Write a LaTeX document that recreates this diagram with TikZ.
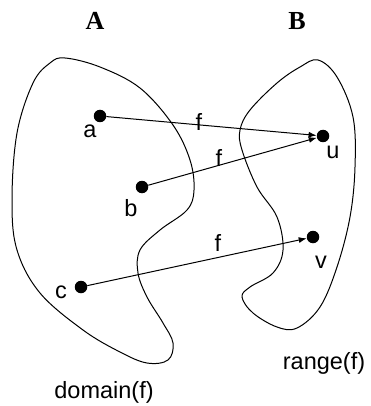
\documentclass[tikz,border=0pt]{standalone}
\usepackage{fontspec}
\setmainfont{Liberation Sans}
\newfontfamily\titlefont{Liberation Serif}
\usetikzlibrary{arrows.meta}
\begin{document}
\begin{tikzpicture}[x=1pt,y=-1pt,
  dot/.style={circle,fill=black,minimum size=12.5pt,inner sep=0pt},
  lbl/.style={inner sep=0pt,font=\fontsize{23.5}{27}\selectfont},
  ttl/.style={inner sep=0pt,font=\titlefont\bfseries\fontsize{26}{30}\selectfont},
  blob/.style={line width=1pt},
  maparrow/.style={line width=1pt,-{Latex[length=8pt,width=6pt]}}]
\useasboundingbox (0,0) rectangle (370,406);
% blobs
\draw[blob] plot[smooth cycle,tension=0.6] coordinates {
 (65,58) (100,67) (140,88) (173,125) (190,160) (194,190) (187,210) (160,230)
 (140,250) (138,273) (147,297) (163,323) (173,343) (168,360) (147,363)
 (120,352) (83,330) (40,293) (17,250) (12,200) (17,133) (33,83) (50,63)};
\draw[blob] plot[smooth cycle,tension=0.6] coordinates {
 (318,60) (337,77) (353,117) (355,167) (350,217) (337,267) (320,307) (297,328)
 (277,327) (253,313) (242,297) (250,287) (273,273) (283,250) (277,217)
 (257,187) (242,150) (240,130) (250,110) (277,83) (300,67)};
% titles
\node[ttl] (tA) at (95,21) {A};
\node[ttl] (tB) at (297,21) {B};
% dots
\node[dot] (a) at (100,116) {};
\node[dot] (b) at (142,187) {};
\node[dot] (c) at (81,287) {};
\node[dot] (u) at (323,136) {};
\node[dot] (v) at (313,237) {};
% point labels
\node[lbl] (la) at (90,131) {a};
\node[lbl] (lb) at (131,208) {b};
\node[lbl] (lc) at (61,292) {c};
\node[lbl] (lu) at (333,152) {u};
\node[lbl] (lv) at (321,262) {v};
% arrows
\draw[maparrow] (a) -- (u);
\draw[maparrow] (b) -- (u);
\draw[maparrow] (c) -- (v);
\node[lbl] (f1) at (199,121.5) {f};
\node[lbl] (f2) at (219,157.5) {f};
\node[lbl] (f3) at (218,242.5) {f};
% set labels
\node[lbl] (dom) at (104,392) {domain(f)};
\node[lbl] (rng) at (324,363) {range(f)};
\end{tikzpicture}
\end{document}
